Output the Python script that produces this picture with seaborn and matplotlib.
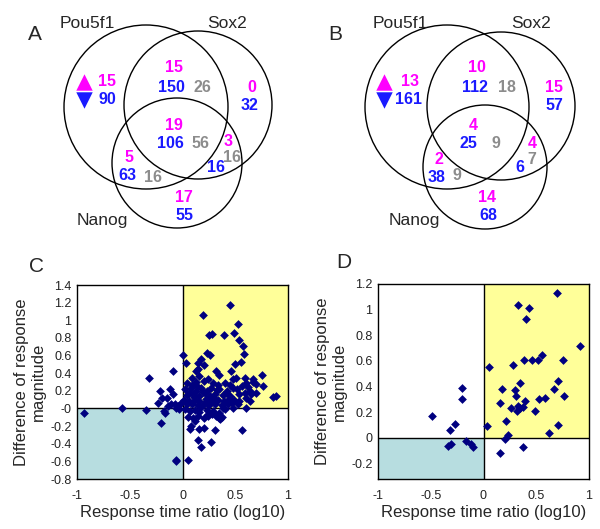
import numpy as np
import pandas as pd
import seaborn as sns
from matplotlib import pyplot as plt
from matplotlib.patches import Circle, Rectangle

# Venn counts, region order: Pou5f1 only, Pou5f1&Sox2, Sox2 only, all three,
# Sox2&Nanog, Pou5f1&Nanog, Nanog only
a_up = [15, 15, 0, 19, 3, 5, 17]
a_down = [90, 150, 32, 106, 16, 63, 55]
a_other = [None, 26, None, 56, 16, 16, None]
b_up = [13, 10, 15, 4, 4, 2, 14]
b_down = [161, 112, 57, 25, 6, 38, 68]
b_other = [None, 18, None, 9, 7, 9, None]
set_names = ["Pou5f1", "Sox2", "Nanog"]

# scatter C
c_x = [-0.93, -0.57, -0.35, -0.32, -0.23, -0.21, -0.19, -0.2, -0.18, -0.17,
       -0.15, -0.12, -0.09, -0.09, -0.07, -0.06, -0.04, -0.03, -0.06, -0.06,
       0.0, 0.05, 0.19, 0.45, 0.53, 0.49, 0.39, 0.25, 0.28, 0.57,
       0.54, 0.58, 0.23, 0.26, 0.18, 0.03, 0.15, 0.15, 0.2, 0.32,
       0.46, 0.5, 0.55, 0.75, 0.76, 0.86, 0.89, 0.08, 0.07, 0.16,
       0.2, 0.12, 0.15, 0.18, 0.27, 0.31, 0.35, 0.36, 0.56, 0.48,
       0.49, 0.13, 0.16, 0.24, 0.35, 0.48, 0.51, 0.59, 0.67, 0.04,
       0.09, 0.13, 0.2, 0.29, 0.34, 0.4, 0.45, 0.6, 0.67, 0.7,
       0.02, 0.08, 0.13, 0.18, 0.23, 0.27, 0.35, 0.42, 0.48, 0.56,
       0.62, 0.64, 0.04, 0.1, 0.16, 0.21, 0.26, 0.31, 0.38, 0.45,
       0.54, 0.59, 0.65, 0.7, 0.01, 0.06, 0.12, 0.16, 0.22, 0.27,
       0.34, 0.39, 0.45, 0.54, 0.6, 0.04, 0.09, 0.15, 0.2, 0.25,
       0.31, 0.37, 0.43, 0.02, 0.07, 0.12, 0.16, 0.23, 0.29, 0.35,
       0.4, 0.05, 0.1, 0.15, 0.2, 0.24, 0.32, 0.37, -0.14, -0.11,
       -0.01, 0.53, 0.6, 0.64, 0.11, 0.19, 0.3, 0.41, 0.52, 0.14,
       0.22, 0.33, 0.44, 0.09, 0.18, 0.28, 0.38, 0.06, 0.24, 0.47]
c_y = [-0.05, 0.0, -0.02, 0.35, 0.06, 0.2, 0.12, -0.17, -0.03, -0.05,
       0.12, 0.22, 0.42, 0.16, 0.05, 0.01, 0.03, -0.01, -0.58, -0.6,
       0.61, -0.58, 1.06, 1.17, 0.96, 0.86, 0.83, 0.83, 0.84, 0.71,
       0.78, 0.62, 0.63, 0.61, 0.56, 0.51, 0.52, 0.45, 0.49, 0.43,
       0.42, 0.5, 0.53, 0.38, 0.26, 0.13, 0.14, -0.2, -0.23, -0.23,
       -0.22, -0.14, -0.36, -0.44, -0.38, -0.24, -0.11, -0.12, -0.24, 0.01,
       0.1, 0.42, 0.37, 0.33, 0.38, 0.33, 0.35, 0.35, 0.33, 0.29,
       0.27, 0.3, 0.31, 0.29, 0.27, 0.29, 0.27, 0.29, 0.3, 0.28,
       0.22, 0.23, 0.2, 0.23, 0.2, 0.23, 0.22, 0.2, 0.23, 0.25,
       0.24, 0.2, 0.15, 0.16, 0.14, 0.17, 0.14, 0.16, 0.15, 0.14,
       0.16, 0.18, 0.16, 0.18, 0.1, 0.09, 0.1, 0.08, 0.11, 0.09,
       0.1, 0.08, 0.09, 0.09, 0.12, 0.05, 0.05, 0.04, 0.05, 0.04,
       0.05, 0.04, 0.05, -0.01, -0.03, -0.02, -0.04, -0.02, -0.03, -0.05,
       -0.01, -0.1, -0.11, -0.09, -0.11, -0.09, -0.09, -0.1, 0.03, 0.05,
       0.06, 0.05, 0.01, 0.08, 0.13, 0.19, 0.12, 0.18, 0.22, 0.26,
       0.07, 0.21, 0.11, 0.34, 0.02, -0.06, 0.0, 0.18, -0.06, 0.06]

# scatter D
d_x = [-0.49, -0.32, -0.27, -0.2, -0.2, -0.34, -0.31, -0.17, -0.12, -0.1,
       0.03, 0.05, 0.16, 0.16, 0.18, 0.2, 0.21, 0.23, 0.26, 0.28,
       0.3, 0.31, 0.32, 0.33, 0.33, 0.35, 0.35, 0.37, 0.37, 0.39,
       0.4, 0.43, 0.38, 0.46, 0.49, 0.52, 0.53, 0.55, 0.58, 0.62,
       0.67, 0.7, 0.71, 0.71, 0.75, 0.76, 0.91]
d_y = [0.17, 0.06, 0.11, 0.39, 0.3, -0.06, -0.05, -0.02, -0.05, -0.07,
       0.09, 0.55, -0.12, 0.27, 0.38, -0.01, 0.13, 0.02, 0.23, 0.57,
       0.37, 0.33, 0.21, 0.25, 1.04, 0.43, 0.23, 0.24, -0.07, 0.29,
       0.93, 1.01, 0.61, 0.61, 0.21, 0.61, 0.3, 0.65, 0.31, 0.04,
       0.38, 1.13, 0.44, 0.1, 0.61, 0.33, 0.72]

MAG = "#ff00ff"
BLU = "#1a1aff"
GRY = "#8c8c8c"

sns.set_style("white")
plt.rcParams["font.family"] = ["Liberation Sans", "DejaVu Sans"]

fig = plt.figure(figsize=(6, 5.29), dpi=100)

# overlay in pixel coordinates for the two Venn diagrams
ov = fig.add_axes([0, 0, 1, 1])
ov.set_xlim(0, 600)
ov.set_ylim(529, 0)
ov.axis("off")
ov.patch.set_alpha(0)


def venn(ax, ox, letter, circles, label_pos, pos, up, down, other):
    for (cx, cy, r) in circles:
        ax.add_patch(Circle((ox + cx, cy), r, fill=False, ec="black", lw=1))
    ax.text(ox + 35, 35, letter, fontsize=15, ha="center", va="center")
    for name, (lx, ly) in zip(set_names, label_pos):
        ax.text(ox + lx, ly, name, fontsize=12.5, ha="center", va="center")
    ax.scatter([ox + 84], [82], marker="^", s=140, color=MAG, lw=0)
    ax.scatter([ox + 84], [100], marker="v", s=140, color=BLU, lw=0)
    for i in range(len(up)):
        (ux, uy), (dx, dy), gp = pos[i]
        ax.text(ox + ux, uy, str(up[i]), color=MAG, fontsize=11.5,
                fontweight="bold", ha="center", va="center")
        ax.text(ox + dx, dy, str(down[i]), color=BLU, fontsize=11.5,
                fontweight="bold", ha="center", va="center")
        if other[i] is not None:
            ax.text(ox + gp[0], gp[1], str(other[i]), color=GRY, fontsize=11.5,
                    fontweight="bold", ha="center", va="center")


venn(ov, 0, "A",
     [(146, 107, 82), (198, 105, 74), (177, 163, 65)],
     [(87, 23), (227, 23), (102, 220)],
     [((107, 82), (107, 99), None),
      ((174, 68), (171, 87), (202, 87)),
      ((252, 88), (250, 106), None),
      ((174, 125), (170, 144), (201, 143)),
      ((228, 141), (216, 167), (232, 158)),
      ((129, 157), (127, 175), (153, 177)),
      ((184, 198), (185, 216), None)],
     a_up, a_down, a_other)

venn(ov, 300, "B",
     [(147, 107, 82), (201, 106, 74), (185, 167, 62)],
     [(100, 23), (231, 23), (114, 220)],
     [((110, 82), (108, 99), None),
      ((177, 68), (175, 87), (207, 87)),
      ((254, 87), (254, 106), None),
      ((173, 125), (168, 144), (196, 143)),
      ((232, 143), (220, 167), (232, 159)),
      ((139, 160), (137, 177), (157, 176)),
      ((187, 198), (188, 216), None)],
     b_up, b_down, b_other)

ov.text(36, 266, "C", fontsize=15, ha="center", va="center")
ov.text(344, 263, "D", fontsize=15, ha="center", va="center")


def scatter_panel(rect, xs, ys, ylim, yticks):
    ax = fig.add_axes(rect)
    df = pd.DataFrame({"x": xs, "y": ys})
    ax.add_patch(Rectangle((0, 0), 1, ylim[1], color="#ffff99", zorder=0, lw=0))
    ax.add_patch(Rectangle((-1, ylim[0]), 1, -ylim[0], color="#b7dde0", zorder=0, lw=0))
    ax.axvline(0, color="black", lw=1, zorder=1)
    ax.axhline(0, color="black", lw=1, zorder=1)
    sns.scatterplot(data=df, x="x", y="y", ax=ax, marker="D", s=20,
                    color="#000080", linewidth=0, zorder=3)
    ax.set_xlim(-1, 1)
    ax.set_ylim(*ylim)
    ax.set_xticks([-1, -0.5, 0, 0.5, 1])
    ax.set_xticklabels(["-1", "-0.5", "0", "0.5", "1"])
    ax.set_yticks(yticks)
    ax.set_yticklabels(["%g" % round(t, 1) for t in yticks])
    ax.tick_params(length=0, labelsize=9, colors="#222222")
    ax.tick_params(axis="x", pad=8)
    ax.tick_params(axis="y", pad=4)
    for s in ax.spines.values():
        s.set_visible(True)
        s.set_color("black")
        s.set_linewidth(1)
    ax.set_xlabel("Response time ratio (log10)", fontsize=12, labelpad=2)
    ax.set_ylabel("Difference of response\nmagnitude", fontsize=12, labelpad=3)
    return ax


scatter_panel([77 / 600, 50 / 529, 211 / 600, 194 / 529], c_x, c_y,
              (-0.8, 1.4), list(np.round(np.arange(-0.8, 1.41, 0.2), 1)))
scatter_panel([378 / 600, 50 / 529, 211 / 600, 195 / 529], d_x, d_y,
              (-0.32, 1.2), list(np.round(np.arange(-0.2, 1.21, 0.2), 1)))

fig.savefig("out.png", dpi=100)
